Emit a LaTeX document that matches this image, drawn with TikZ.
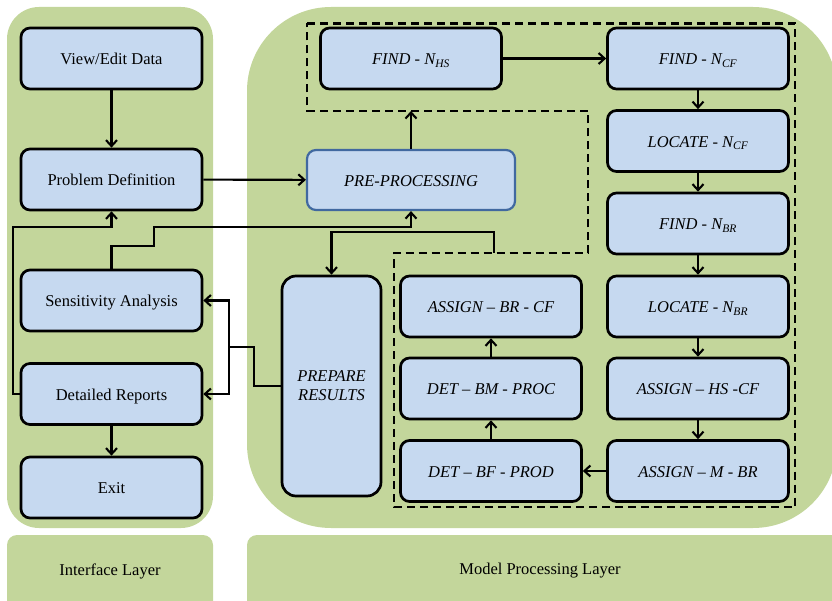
\documentclass[tikz,border=0pt]{standalone}
\usepackage{fontspec}
\setmainfont{Liberation Serif}
\usetikzlibrary{arrows.meta}
\definecolor{panelgreen}{RGB}{195,214,155}
\definecolor{boxblue}{RGB}{198,217,240}
\definecolor{preblue}{RGB}{65,105,160}
\begin{document}
\begin{tikzpicture}[x=1pt,y=-1pt,
  font=\fontsize{16.5}{19}\selectfont,
  box/.style={draw=black, line width=2.7pt, fill=boxblue, rounded corners=9pt,
    minimum width=181pt, minimum height=61pt, inner sep=0pt, align=center,
    text height=12.5pt, text depth=0pt},
  ibox/.style={box, font=\fontsize{16.5}{19}\selectfont\itshape},
  arr/.style={line width=2.1pt, -{Straight Barb[length=6pt,width=11pt]}},
  region/.style={line width=2.3pt, dash pattern=on 8pt off 5pt},
  lbl/.style={inner sep=0pt}
]
\useasboundingbox (0,0) rectangle (832,601);
% panels
\fill[panelgreen, rounded corners=32pt] (7,7) rectangle (213,528);
\fill[panelgreen, rounded corners=84pt] (247,7) rectangle (837,528);
\fill[panelgreen, rounded corners=10pt] (7,535) rectangle (213,612);
\fill[panelgreen, rounded corners=10pt] (247,535) rectangle (845,612);
\node[lbl] (il) at (110,571) {Interface Layer};
\node[lbl] (ml) at (540,571) {Model Processing Layer};

% dashed region
\draw[region] (307,23.5) -- (795,23.5) -- (795,507) -- (394,507) -- (394,253)
  -- (588,253) -- (588,111) -- (307,111) -- cycle;

% left column
\node[box] (ved) at (111.5,58.5) {View/Edit Data};
\node[box] (pd) at (111.5,179.5) {Problem Definition};
\node[box] (sa) at (111.5,300.5) {Sensitivity Analysis};
\node[box] (dr) at (111.5,394) {Detailed Reports};
\node[box] (ex) at (111.5,487.5) {Exit};

% pre-processing and prepare results
\node[ibox, draw=preblue, line width=2.2pt, minimum width=208pt, minimum height=60pt] (pre) at (411,180) {PRE-PROCESSING};
\node[ibox, minimum width=99pt, minimum height=220pt, rounded corners=14pt,
  text height=, text depth=] (prep) at (331.5,386) {PREPARE\\RESULTS};

% right area
\node[ibox] (fnhs) at (411,58.5) {FIND - N\textsubscript{HS}};
\node[ibox] (fncf) at (698,58.5) {FIND - N\textsubscript{CF}};
\node[ibox] (lncf) at (698,141) {LOCATE - N\textsubscript{CF}};
\node[ibox] (fnbr) at (698,223.5) {FIND - N\textsubscript{BR}};
\node[ibox] (lnbr) at (698,306.5) {LOCATE - N\textsubscript{BR}};
\node[ibox] (ahscf) at (698,388.5) {ASSIGN – HS -CF};
\node[ibox] (ambr) at (698,471) {ASSIGN – M - BR};
\node[ibox] (abrcf) at (491,306.5) {ASSIGN – BR - CF};
\node[ibox] (dbmp) at (491,388.5) {DET – BM - PROC};
\node[ibox] (dbfp) at (491,471) {DET – BF - PROD};

\coordinate (topdash) at (411,111);
\coordinate (lowdash) at (494,253);

% connectors
\draw[arr] (ved) -- (pd);
\draw[arr] (dr) -- (ex);
\draw[arr] (pd) -- (pre);
\draw[arr] (pre) -- (topdash);
\draw[arr] (fnhs) -- (fncf);
\draw[arr] (fncf) -- (lncf);
\draw[arr] (lncf) -- (fnbr);
\draw[arr] (fnbr) -- (lnbr);
\draw[arr] (lnbr) -- (ahscf);
\draw[arr] (ahscf) -- (ambr);
\draw[arr] (ambr) -- (dbfp);
\draw[arr] (dbfp) -- (dbmp);
\draw[arr] (dbmp) -- (abrcf);
\draw[arr] (sa.north) -- ++(0,-23) -| (154,227) -| (pre.south);
\draw[arr] (lowdash) -- (494,232) -| (prep.north);
\draw[arr] (prep.west) -- (254,386) |- (229,347) |- (sa.east);
\draw[arr] (229,347) |- (dr.east);
\draw[arr] (dr.west) -| (13,227) -| (pd.south);
\end{tikzpicture}
\end{document}
